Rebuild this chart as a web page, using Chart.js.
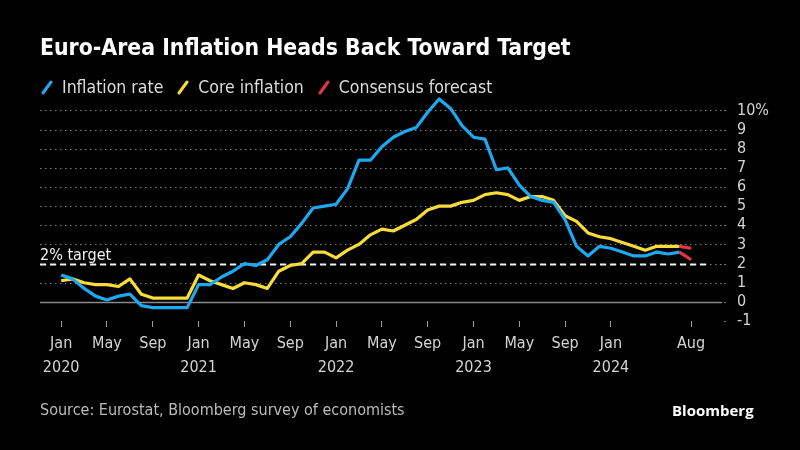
<!DOCTYPE html>
<html>
<head>
<meta charset="utf-8">
<script src="https://cdn.jsdelivr.net/npm/chart.js@4.4.1/dist/chart.umd.min.js"></script>
<style>
  html, body { margin: 0; padding: 0; background: #000; }
  body { width: 800px; height: 450px; position: relative; overflow: hidden; font-family: "DejaVu Sans Condensed", "Liberation Sans Narrow", sans-serif; }
  #chart { position: absolute; left: 0; top: 0; }
  .title { position: absolute; left: 40px; top: 34px; color: #fff; font-size: 22.8px; font-weight: bold; }
  .legend { position: absolute; left: 40px; top: 77px; color: #ddd; font-size: 17.5px; display: flex; align-items: center; }
  .legend span.item { display: inline-flex; align-items: center; margin-right: 13px; }
  .legend svg { margin-right: 8px; }
  .source { position: absolute; left: 40px; top: 400px; color: #bbb; font-size: 16px; }
  .logo { position: absolute; left: 672px; top: 400px; color: #fff; font-size: 15px; font-weight: bold; font-family: "Open Sans", sans-serif; }
</style>
</head>
<body>
<canvas id="chart" width="800" height="450"></canvas>
<div class="title">Euro-Area Inflation Heads Back Toward Target</div>
<div class="legend">
  <span class="item"><svg width="14" height="16"><line x1="3" y1="14" x2="11" y2="3" stroke="#1ea8f0" stroke-width="3" stroke-linecap="round"/></svg>Inflation rate</span>
  <span class="item"><svg width="14" height="16"><line x1="3" y1="14" x2="11" y2="3" stroke="#f7dc3a" stroke-width="3" stroke-linecap="round"/></svg>Core inflation</span>
  <span class="item"><svg width="14" height="16"><line x1="3" y1="14" x2="11" y2="3" stroke="#e3344a" stroke-width="3" stroke-linecap="round"/></svg>Consensus forecast</span>
</div>
<div class="source">Source: Eurostat, Bloomberg survey of economists</div>
<div class="logo">Bloomberg</div>
<script>
// monthly values, Jan 2020 .. Jul 2024 (index 0 = Jan 2020)
const inflationRate = [
  1.4, 1.2, 0.7, 0.3, 0.1, 0.3, 0.4, -0.2, -0.3, -0.3, -0.3, -0.3,
  0.9, 0.9, 1.3, 1.6, 2.0, 1.9, 2.2, 3.0, 3.4, 4.1, 4.9, 5.0,
  5.1, 5.9, 7.4, 7.4, 8.1, 8.6, 8.9, 9.1, 9.9, 10.6, 10.1, 9.2,
  8.6, 8.5, 6.9, 7.0, 6.1, 5.5, 5.3, 5.2, 4.3, 2.9, 2.4, 2.9,
  2.8, 2.6, 2.4, 2.4, 2.6, 2.5, 2.6
];
const coreInflation = [
  1.1, 1.2, 1.0, 0.9, 0.9, 0.8, 1.2, 0.4, 0.2, 0.2, 0.2, 0.2,
  1.4, 1.1, 0.9, 0.7, 1.0, 0.9, 0.7, 1.6, 1.9, 2.0, 2.6, 2.6,
  2.3, 2.7, 3.0, 3.5, 3.8, 3.7, 4.0, 4.3, 4.8, 5.0, 5.0, 5.2,
  5.3, 5.6, 5.7, 5.6, 5.3, 5.5, 5.5, 5.3, 4.5, 4.2, 3.6, 3.4,
  3.3, 3.1, 2.9, 2.7, 2.9, 2.9, 2.9
];
// consensus forecast: Jul 2024 -> Aug 2024
const forecastMonths = [54, 55];
const forecastHeadline = [2.6, 2.2];
const forecastCore = [2.9, 2.8];

const xTickMonths = [0, 4, 8, 12, 16, 20, 24, 28, 32, 36, 40, 44, 48, 55];
const xTickLabels = [
  ['Jan', '2020'], 'May', 'Sep', ['Jan', '2021'], 'May', 'Sep', ['Jan', '2022'],
  'May', 'Sep', ['Jan', '2023'], 'May', 'Sep', ['Jan', '2024'], 'Aug'
];
const yTicks = [-1, 0, 1, 2, 3, 4, 5, 6, 7, 8, 9, 10];
const targetRate = 2;

const BLUE = '#1ea8f0';
const YELLOW = '#f7dc3a';
const RED = '#e3344a';
const LABEL = '#d4d4d4';
const FONT = '"DejaVu Sans Condensed", "Liberation Sans Narrow", sans-serif';

function toPoints(values, start) {
    return values.map((v, i) => ({ x: (start || 0) + i, y: v }));
}

const gridPlugin = {
    id: 'bbgGrid',
    beforeDatasetsDraw(chart) {
        const { ctx, chartArea, scales } = chart;
        const y = scales.y, x = scales.x;
        ctx.save();
        yTicks.forEach(t => {
            const py = Math.round(y.getPixelForValue(t)) + 0.5;
            ctx.beginPath();
            if (t === 0) {
                ctx.setLineDash([]);
                ctx.strokeStyle = '#8a8a8a';
                ctx.lineWidth = 1.5;
            } else {
                ctx.setLineDash([1.5, 3.5]);
                ctx.strokeStyle = '#808080';
                ctx.lineWidth = 1;
            }
            if (t !== -1) {
                ctx.moveTo(chartArea.left, py);
                ctx.lineTo(chartArea.right, py);
                ctx.stroke();
            }
            // little tick dot next to the labels
            ctx.setLineDash([]);
            ctx.fillStyle = '#777';
            ctx.fillRect(chartArea.right + 2, py - 0.5, 2, 1);
        });
        // 2% target
        const ty = Math.round(y.getPixelForValue(targetRate)) + 0.5;
        ctx.beginPath();
        ctx.setLineDash([6, 4]);
        ctx.strokeStyle = '#f2f2f2';
        ctx.lineWidth = 2;
        ctx.moveTo(chartArea.left, ty);
        ctx.lineTo(x.getPixelForValue(56.6), ty);
        ctx.stroke();
        ctx.setLineDash([]);
        ctx.fillStyle = '#f2f2f2';
        ctx.font = '16px ' + FONT;
        ctx.textBaseline = 'alphabetic';
        ctx.fillText('2% target', chartArea.left, ty - 5);
        ctx.restore();
    }
};

new Chart(document.getElementById('chart'), {
    type: 'line',
    data: {
        datasets: [
            {
                label: 'Consensus forecast',
                data: toPoints(forecastCore, forecastMonths[0]),
                borderColor: RED, borderWidth: 3.2, pointRadius: 0, tension: 0, order: 1
            },
            {
                label: 'Consensus forecast',
                data: toPoints(forecastHeadline, forecastMonths[0]),
                borderColor: RED, borderWidth: 3.2, pointRadius: 0, tension: 0, order: 1
            },
            {
                label: 'Core inflation',
                data: toPoints(coreInflation),
                borderColor: YELLOW, borderWidth: 3.2, pointRadius: 0, tension: 0, order: 3
            },
            {
                label: 'Inflation rate',
                data: toPoints(inflationRate),
                borderColor: BLUE, borderWidth: 3.2, pointRadius: 0, tension: 0, order: 2
            }
        ]
    },
    options: {
        responsive: false,
        animation: false,
        events: [],
        clip: false,
        layout: { padding: { left: 40, right: 0, top: 97, bottom: 0 } },
        elements: { line: { borderJoinStyle: 'round', borderCapStyle: 'butt' } },
        plugins: { legend: { display: false }, tooltip: { enabled: false } },
        scales: {
            x: {
                type: 'linear',
                min: -1.85,
                max: 57.7,
                afterBuildTicks: (scale) => { scale.ticks = xTickMonths.map(v => ({ value: v })); },
                afterFit: (scale) => { scale.height = 129; },
                border: { display: false },
                grid: { drawOnChartArea: false, drawTicks: true, tickLength: 6, tickColor: '#9a9a9a', tickWidth: 1 },
                ticks: {
                    autoSkip: false,
                    maxRotation: 0,
                    padding: 4,
                    color: LABEL,
                    font: { family: FONT, size: 16, lineHeight: 1.55 },
                    callback: (value) => {
                        const i = xTickMonths.indexOf(value);
                        return i >= 0 ? xTickLabels[i] : '';
                    }
                }
            },
            y: {
                position: 'right',
                min: -1,
                max: 10.7,
                afterBuildTicks: (scale) => { scale.ticks = yTicks.map(v => ({ value: v })); },
                afterFit: (scale) => { scale.width = 78; },
                border: { display: false },
                grid: { display: false },
                ticks: {
                    autoSkip: false,
                    padding: 7,
                    color: LABEL,
                    font: { family: FONT, size: 16 },
                    callback: (v) => v === 10 ? '10%' : String(v)
                }
            }
        }
    },
    plugins: [gridPlugin]
});
</script>
</body>
</html>
